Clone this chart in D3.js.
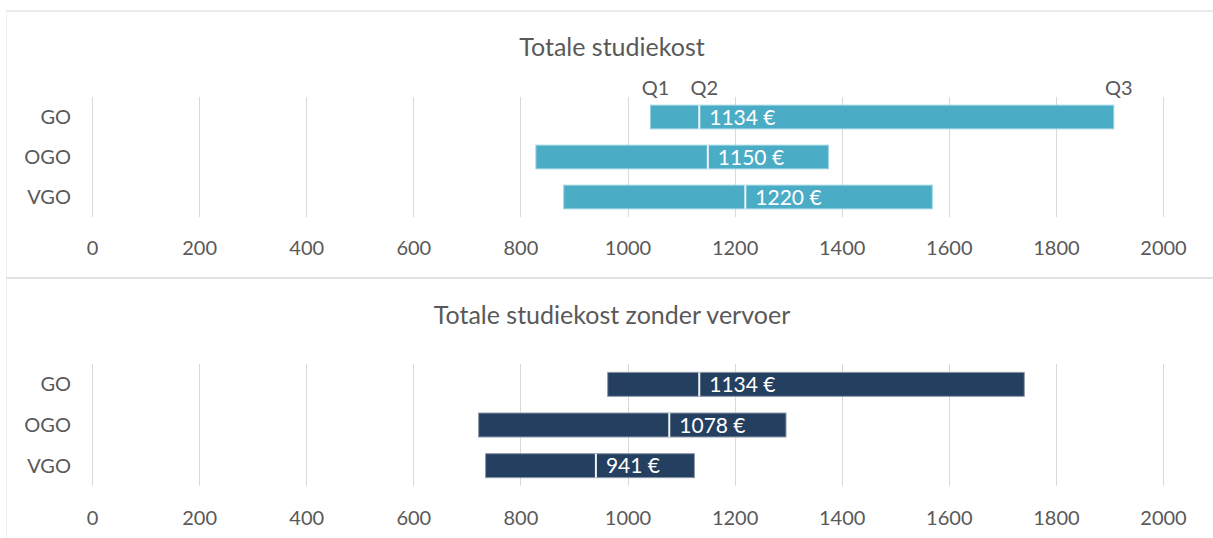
<!DOCTYPE html>
<html>
<head>
<meta charset="utf-8">
<script src="https://cdn.jsdelivr.net/npm/d3@7"></script>
<style>
  html, body { margin: 0; padding: 0; background: #ffffff; }
  svg { display: block; }
  text { font-family: Lato, "Open Sans", sans-serif; fill: #595959; }
</style>
</head>
<body>
<svg id="chart" width="1213" height="538"></svg>
<script>
const categories = ["GO", "OGO", "VGO"];
const tickValues = [0, 200, 400, 600, 800, 1000, 1200, 1400, 1600, 1800, 2000];
const quartileLabels = ["Q1", "Q2", "Q3"];

const titleTotal = "Totale studiekost";
const totalQ1 = [1043, 829, 881];
const totalQ2 = [1134, 1150, 1220];
const totalQ3 = [1908, 1375, 1569];

const titleNoTransport = "Totale studiekost zonder vervoer";
const noTransQ1 = [963, 722, 735];
const noTransQ2 = [1134, 1078, 941];
const noTransQ3 = [1741, 1296, 1125];

const svg = d3.select("#chart");
const W = 1213, H = 538;

// frame
svg.append("line").attr("x1", 6).attr("x2", W).attr("y1", 11).attr("y2", 11)
  .attr("stroke", "#ebebeb").attr("stroke-width", 2);
svg.append("line").attr("x1", 6.5).attr("x2", 6.5).attr("y1", 12).attr("y2", H)
  .attr("stroke", "#f0f0f0").attr("stroke-width", 1);
svg.append("line").attr("x1", 6).attr("x2", W).attr("y1", 278).attr("y2", 278)
  .attr("stroke", "#e3e3e3").attr("stroke-width", 2);

const x = d3.scaleLinear().domain([0, 2000]).range([92, 1163]);

function panel(opts) {
  const g = svg.append("g");
  const y = d3.scaleBand().domain(categories)
    .range([opts.top, opts.bottom]).paddingInner(0.41).paddingOuter(0.205);

  // title
  g.append("text").attr("x", 612).attr("y", opts.titleY)
    .attr("text-anchor", "middle").attr("dy", "0.35em")
    .style("font-size", "25px").text(opts.title);

  // gridlines
  g.append("g").selectAll("line").data(tickValues).join("line")
    .attr("x1", d => Math.round(x(d)) + 0.5).attr("x2", d => Math.round(x(d)) + 0.5)
    .attr("y1", opts.top).attr("y2", opts.bottom)
    .attr("stroke", "#d9d9d9").attr("stroke-width", 1);

  // x axis labels
  const ax = d3.axisBottom(x).tickValues(tickValues).tickSize(0).tickPadding(0)
    .tickFormat(d3.format("d"));
  const axg = g.append("g").attr("transform", `translate(0,${opts.axisY})`).call(ax);
  axg.select(".domain").remove();
  axg.selectAll("text").attr("y", 0).attr("dy", "0.35em")
    .style("font-size", "20px").style("font-family", "Lato, sans-serif").attr("fill", "#595959");

  // category labels
  const ay = d3.axisLeft(y).tickSize(0).tickPadding(0);
  const ayg = g.append("g").attr("transform", "translate(71,0)").call(ay);
  ayg.select(".domain").remove();
  ayg.selectAll("text").attr("dy", "0.35em")
    .style("font-size", "20px").style("font-family", "Lato, sans-serif").attr("fill", "#595959");

  const rows = categories.map((c, i) => ({ c, q1: opts.q1[i], q2: opts.q2[i], q3: opts.q3[i] }));

  // full bars (Q1 to Q3)
  g.append("g").selectAll("rect").data(rows).join("rect")
    .attr("x", d => x(d.q1)).attr("width", d => x(d.q3) - x(d.q1))
    .attr("y", d => y(d.c)).attr("height", y.bandwidth())
    .attr("fill", opts.color).attr("stroke", opts.stroke).attr("stroke-width", 1);
  // median dividers
  g.append("g").selectAll("line").data(rows).join("line")
    .attr("x1", d => x(d.q2)).attr("x2", d => x(d.q2))
    .attr("y1", d => y(d.c)).attr("y2", d => y(d.c) + y.bandwidth())
    .attr("stroke", "#f2f5f7").attr("stroke-width", 2);

  // median labels
  g.append("g").selectAll("text").data(rows).join("text")
    .attr("x", d => x(d.q2) + 10).attr("y", d => y(d.c) + y.bandwidth() / 2)
    .attr("dy", "0.36em").style("font-size", "21px").style("fill", "#ffffff")
    .text(d => d.q2 + " €");

  if (opts.quartiles) {
    const first = rows[0];
    const qv = [first.q1, first.q2, first.q3];
    g.append("g").selectAll("text").data(quartileLabels).join("text")
      .attr("x", (d, i) => x(qv[i]) + 5).attr("y", opts.quartileY)
      .attr("text-anchor", "middle").attr("dy", "0.35em")
      .style("font-size", "20px").text(d => d);
  }
}

panel({ title: titleTotal, titleY: 47, top: 97, bottom: 217, axisY: 248,
  q1: totalQ1, q2: totalQ2, q3: totalQ3, color: "#4bacc6", stroke: "#93cfdf",
  quartiles: true, quartileY: 88 });

panel({ title: titleNoTransport, titleY: 315, top: 364, bottom: 486, axisY: 518,
  q1: noTransQ1, q2: noTransQ2, q3: noTransQ3, color: "#243f60", stroke: "#8c99aa",
  quartiles: false });
</script>
</body>
</html>
